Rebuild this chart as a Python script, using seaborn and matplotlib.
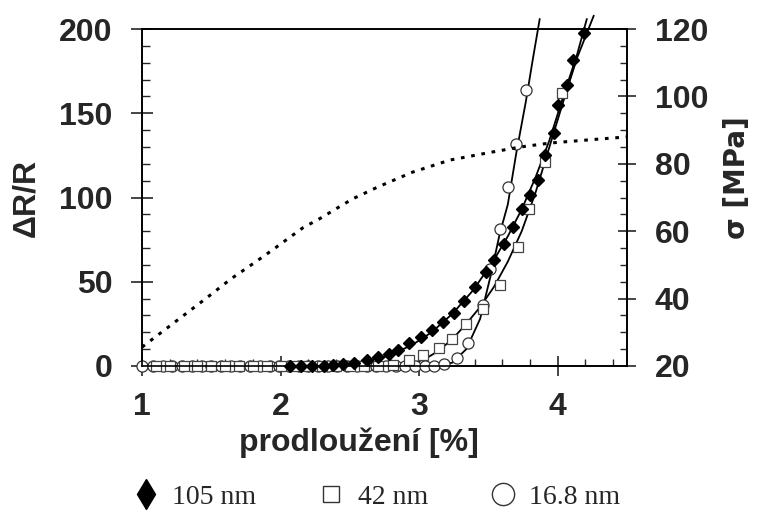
import numpy as np
import pandas as pd
import seaborn as sns
import matplotlib.pyplot as plt
from matplotlib.lines import Line2D
from matplotlib.ticker import MultipleLocator

# measured points, 105 nm (filled diamonds)
x_105 = [2.07, 2.15, 2.23, 2.31, 2.38, 2.45, 2.53, 2.62, 2.70, 2.78, 2.85, 2.93, 3.01, 3.09,
         3.17, 3.25, 3.32, 3.40, 3.48, 3.54, 3.61, 3.68, 3.74, 3.80, 3.86, 3.91, 3.97, 4.00,
         4.07, 4.11, 4.19]
y_105 = [0, 0, 0, 0, 0.6, 1.2, 1.8, 3.6, 5.4, 7.1, 9.5, 13.7, 17.3, 21.4,
         26.2, 31.5, 38.7, 47, 56, 63, 72.6, 82.7, 93.4, 101.7, 110.7, 125.5, 138.6, 154.7,
         166.6, 181.5, 197.6]

# 42 nm (open squares)
x_42 = [1.10, 1.20, 1.30, 1.40, 1.50, 1.60, 1.70, 1.80, 1.90, 2.00, 2.10, 2.20, 2.30, 2.40,
        2.50, 2.60, 2.70, 2.81, 2.93, 3.03, 3.14, 3.24, 3.34, 3.46, 3.58, 3.71, 3.79, 3.91, 4.03]
y_42 = [0, 0, 0, 0, 0, 0, 0, 0, 0, 0, 0, 0, 0, 0,
        0, 0, 0, 0.5, 3.6, 6.5, 10.7, 16.1, 25, 33.9, 48.2, 70.8, 93.4, 120.8, 161.8]

# 16.8 nm (open circles)
x_168 = [1.00, 1.08, 1.15, 1.22, 1.29, 1.36, 1.43, 1.50, 1.57, 1.64, 1.71, 1.78, 1.85, 1.92,
         1.99, 2.06, 2.13, 2.20, 2.27, 2.34, 2.41, 2.48, 2.55, 2.62, 2.69, 2.76, 2.83, 2.90,
         2.97, 3.04, 3.11, 3.18, 3.27, 3.35, 3.46, 3.51, 3.58, 3.64, 3.70, 3.77]
y_168 = [0, 0, 0, 0, 0, 0, 0, 0, 0, 0, 0, 0, 0, 0,
         0, 0, 0, 0, 0, 0, 0, 0, 0, 0, 0, 0, 0, 0,
         0, 0, 0, 1, 4.8, 13.7, 36.3, 57.7, 81.5, 106, 131.5, 164]

# fitted curves
fit_105_x = [2.14, 2.34, 2.54, 2.74, 2.94, 3.09, 3.24, 3.39, 3.54, 3.64, 3.74, 3.84, 3.94, 4.04, 4.14, 4.21]
fit_105_y = [0, 0.5, 2, 5, 12, 20, 31, 45, 63, 77, 93, 112, 134, 160, 185, 206]
fit_42_x = [2.89, 3.04, 3.14, 3.24, 3.34, 3.44, 3.54, 3.64, 3.74, 3.84, 3.94, 4.04, 4.14, 4.26]
fit_42_y = [0, 4, 9, 16, 25, 35, 47, 62, 80, 103, 130, 157, 183, 208]
fit_168_x = [3.14, 3.24, 3.34, 3.44, 3.52, 3.58, 3.64, 3.70, 3.77, 3.82, 3.87]
fit_168_y = [0, 2, 10, 28, 55, 78, 96, 126, 157, 182, 206]

# stress curve (right axis)
sig_x = [1.00, 1.15, 1.30, 1.46, 1.64, 1.82, 1.94, 2.05, 2.16, 2.29, 2.41, 2.52, 2.70,
         2.95, 3.22, 3.50, 3.73, 3.95, 4.25, 4.50]
sig_y = [25.6, 30.3, 35.0, 40.0, 45.8, 50.9, 54.4, 57.7, 61.0, 63.9, 66.9, 69.6, 73.1,
         77.5, 81.1, 83.3, 85.0, 86.2, 87.2, 88.0]

legend_labels = ["105 nm", "42 nm", "16.8 nm"]

sns.set_style("white")
plt.rcParams['font.family'] = ['Liberation Sans', 'DejaVu Sans']

fig = plt.figure(figsize=(7.57, 5.12), dpi=100)
ax = fig.add_axes([0.1876, 0.2852, 0.6407, 0.658])
ax2 = ax.twinx()

# stress curve
sns.lineplot(x=sig_x, y=sig_y, ax=ax2, color="black", lw=2.2, linestyle=(0, (1.2, 2.2)), sort=False)

# fits
for fx, fy in [(fit_105_x, fit_105_y), (fit_42_x, fit_42_y), (fit_168_x, fit_168_y)]:
    sns.lineplot(x=fx, y=fy, ax=ax, color="black", lw=1.3, sort=False)
for l in ax.get_lines():
    l.set_clip_on(False)

# points
ax.plot(x_168, y_168, "o", ms=8, mfc="white", mec="#333333", mew=0.9, clip_on=False, zorder=3)
ax.plot(x_42, y_42, "s", ms=7.5, mfc="white", mec="#444444", mew=0.9, clip_on=False, zorder=3)
ax.plot(x_105, y_105, "D", ms=6.5, mfc="black", mec="black", clip_on=False, zorder=4)

ax.set_xlim(1.0, 4.5)
ax.set_ylim(0, 200)
ax2.set_ylim(20, 120)

ax.xaxis.set_major_locator(MultipleLocator(1))
ax.xaxis.set_minor_locator(MultipleLocator(0.2))
ax.yaxis.set_major_locator(MultipleLocator(50))
ax.yaxis.set_minor_locator(MultipleLocator(10))
ax2.yaxis.set_major_locator(MultipleLocator(20))
ax2.yaxis.set_minor_locator(MultipleLocator(5))

ax.tick_params(axis="x", which="major", direction="inout", length=14, width=1.2, bottom=True, pad=11.5)
ax.tick_params(axis="x", which="minor", direction="in", length=5, width=1, bottom=True)
ax.tick_params(axis="y", which="major", direction="inout", length=16, width=1.2, left=True, pad=13)
ax.tick_params(axis="y", which="minor", direction="in", length=6, width=1, left=True)
ax2.tick_params(axis="y", which="major", direction="inout", length=13, width=1.2, right=True, pad=13.5)
ax2.tick_params(axis="y", which="minor", direction="in", length=5, width=1, right=True)

for a in (ax, ax2):
    for s in a.spines.values():
        s.set_color("black")
        s.set_linewidth(1.2)
    for lab in a.get_xticklabels() + a.get_yticklabels():
        lab.set_fontsize(23)
        lab.set_fontweight("bold")

ax.set_xlabel("prodloužení [%]", fontsize=23, fontweight="bold")
ax.xaxis.set_label_coords(0.447, -0.182)
ax.set_ylabel("ΔR/R", fontsize=23, fontweight="bold")
ax.yaxis.set_label_coords(-0.208, 0.5)
ax2.set_ylabel("σ [MPa]", fontsize=20, fontweight="bold", family="DejaVu Sans")
ax2.yaxis.set_label_coords(1.198, 0.559)

handles = [
    Line2D([], [], marker="d", ls="none", ms=15, mfc="black", mec="black"),
    Line2D([], [], marker="s", ls="none", ms=11.5, mfc="white", mec="#333333", mew=1),
    Line2D([], [], marker="o", ls="none", ms=16, mfc="white", mec="#333333", mew=1),
]
fig.legend(handles, legend_labels, loc="center", bbox_to_anchor=(0.497, 0.029), ncol=3,
           frameon=False, prop={"family": "Liberation Serif", "size": 20},
           handletextpad=0.45, columnspacing=2.2, handlelength=1)

fig.savefig("out.png", dpi=100)
